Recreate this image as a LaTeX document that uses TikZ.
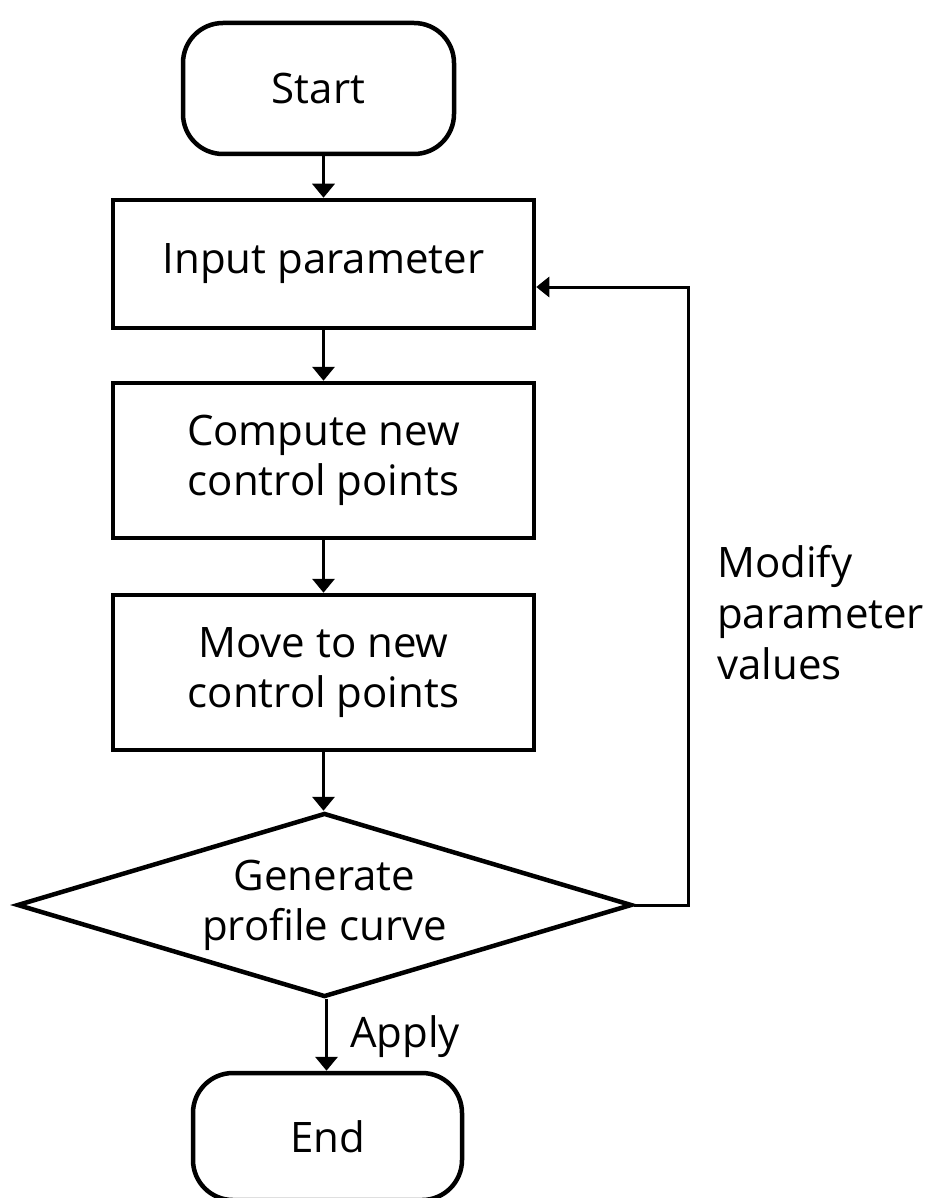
\documentclass[tikz,border=0pt]{standalone}
\usepackage{fontspec}
\setmainfont{Open Sans}
\usetikzlibrary{arrows.meta,shapes.geometric}
\begin{document}
\begin{tikzpicture}[x=1pt,y=1pt,
  every node/.style={font=\fontsize{42}{50}\selectfont},
  procbox/.style={draw, line width=4.5pt, minimum width=421pt, inner sep=0pt, align=center},
  termbox/.style={draw, line width=4.5pt, rounded corners=40pt, inner sep=0pt},
  decbox/.style={draw, diamond, line width=4.5pt, minimum width=615pt, minimum height=184pt, aspect=3.34, inner sep=0pt, align=center},
  arr/.style={line width=3.5pt, -{Triangle[width=22pt,length=14pt]}},
  fbarr/.style={line width=3pt, -{Triangle[width=20pt,length=13pt]}},
  lbl/.style={inner sep=0pt}
]
\useasboundingbox (0,0) rectangle (928,-1198);
\node[termbox, minimum width=271pt, minimum height=131pt] (start) at (318.5,-88.5) {Start};
\node[procbox, minimum height=128pt] (input) at (323.5,-264) {Input parameter};
\node[procbox, minimum height=155pt] (compute) at (323.5,-460.5) {Compute new\\control points};
\node[procbox, minimum height=155pt] (move) at (323.5,-672.5) {Move to new\\control points};
\node[decbox] (gen) at (324.5,-905) {Generate\\profile curve};
\node[termbox, minimum width=269pt, minimum height=127pt] (end) at (327.5,-1136.5) {End};
\node[lbl, anchor=base west] (apply) at (350,-1047) {Apply};
\node[lbl, anchor=west, align=left, font=\fontsize{42}{51}\selectfont] (modify) at (717,-613) {Modify\\parameter\\values};
\draw[arr] (start.south -| input.north) -- (input.north);
\draw[arr] (input) -- (compute);
\draw[arr] (compute) -- (move);
\draw[arr] (move.south) -- (move.south |- gen.north);
\draw[arr] ([xshift=2pt]gen.south) -- ([xshift=2pt]gen.south |- end.north);
\coordinate (fbcorner) at (688,-905);
\draw[fbarr] (gen.east) -- (fbcorner) |- ([yshift=-23pt]input.east);
\end{tikzpicture}
\end{document}
